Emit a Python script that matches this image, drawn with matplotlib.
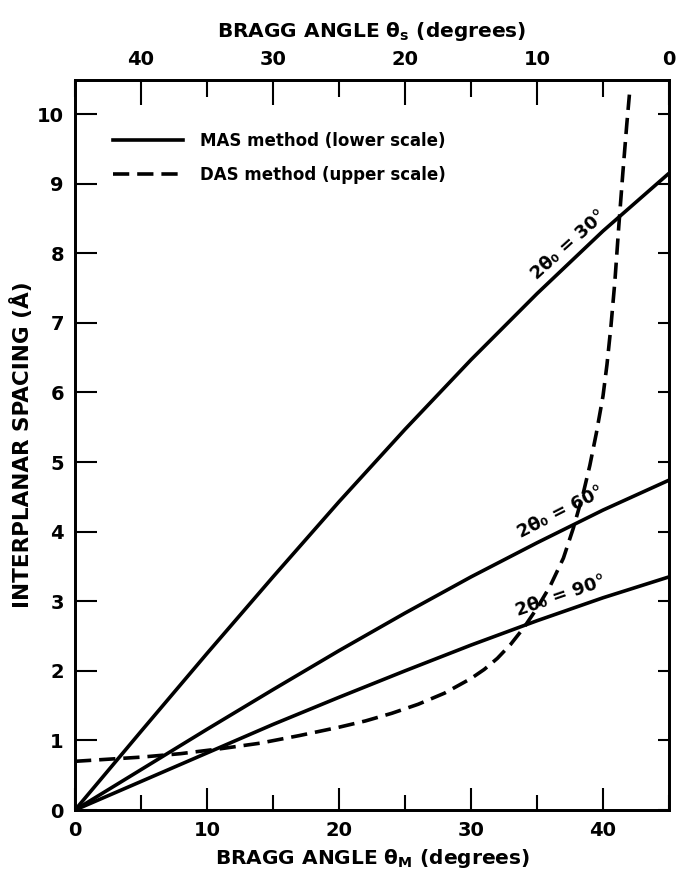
import matplotlib
matplotlib.use('Agg')
import matplotlib.pyplot as plt
from matplotlib.lines import Line2D
from matplotlib.ticker import MultipleLocator

#---- Data -------------------------------------------------------------------#

theta_m = [0, 5, 10, 15, 20, 25, 30, 35, 40, 45]            #lower scale (deg)
mas_30 = [0, 1.13, 2.25, 3.35, 4.43, 5.47, 6.47, 7.42, 8.32, 9.15]
mas_60 = [0, 0.58, 1.16, 1.73, 2.29, 2.83, 3.35, 3.84, 4.31, 4.74]
mas_90 = [0, 0.41, 0.82, 1.23, 1.62, 2.00, 2.37, 2.72, 3.05, 3.35]

theta_s = [45, 40, 37, 34, 31, 28, 25, 23, 21, 19, 17, 15, 14, 13, 12, 11,
           10, 9, 8, 7.25, 6.5, 6, 5.5, 5, 4.7, 4.4, 4.1, 3.8, 3.5, 3.2,
           3.0]                                             #upper scale (deg)
das = [0.70, 0.76, 0.81, 0.88, 0.96, 1.07, 1.19, 1.28, 1.39, 1.52, 1.68,
       1.89, 2.02, 2.18, 2.38, 2.62, 2.90, 3.22, 3.62, 4.05, 4.55, 4.95,
       5.42, 5.95, 6.40, 6.95, 7.60, 8.40, 9.15, 9.85, 10.28]

curve_labels = ['2θ₀ = 30°', '2θ₀ = 60°', '2θ₀ = 90°']

#---- Plotting ---------------------------------------------------------------#

plt.rcParams['font.family'] = 'DejaVu Sans'
plt.rcParams['font.weight'] = 'bold'
plt.rcParams['mathtext.default'] = 'bf'

fig = plt.figure(figsize=(6.77, 8.82), dpi=100)
ax = fig.add_axes([0.1108, 0.0816, 0.8774, 0.8277])

lw = 2.6
for yv in (mas_30, mas_60, mas_90):
    ax.plot(theta_m, yv, color='black', lw=lw, solid_capstyle='butt')

ax.set_xlim(0, 45)
ax.set_ylim(0, 10.49)

ax2 = ax.twiny()                        #upper scale, runs backwards
ax2.set_xlim(45, 0)
ax2.plot(theta_s, das, color='black', lw=lw, dashes=(4.5, 2.2))

ax3 = ax.twinx()                        #short ticks on the right spine
ax3.set_ylim(ax.get_ylim())
ax3.yaxis.set_major_locator(MultipleLocator(1))
ax3.tick_params(axis='y', direction='in', length=8, width=1.5,
                labelright=False)

#Curve annotations
ax.text(37.4, 8.12, curve_labels[0], rotation=42, fontsize=13,
        ha='center', va='center', fontweight='bold')
ax.text(36.8, 4.28, curve_labels[1], rotation=27, fontsize=13,
        ha='center', va='center', fontweight='bold')
ax.text(36.8, 3.08, curve_labels[2], rotation=19, fontsize=13,
        ha='center', va='center', fontweight='bold')

#Ticks
ax.xaxis.set_major_locator(MultipleLocator(10))
ax.xaxis.set_minor_locator(MultipleLocator(5))
ax.yaxis.set_major_locator(MultipleLocator(1))
ax.tick_params(axis='x', which='major', direction='in', length=16, width=1.5,
               labelsize=14, pad=8, top=False)
ax.tick_params(axis='x', which='minor', direction='in', length=11, width=1.5,
               top=False)
ax.tick_params(axis='y', which='major', direction='in', length=16, width=1.5,
               labelsize=14, pad=8, right=False)

ax2.xaxis.set_major_locator(MultipleLocator(10))
ax2.xaxis.set_minor_locator(MultipleLocator(5))
ax2.tick_params(axis='x', which='major', direction='in', length=18, width=1.5,
                labelsize=14, pad=8)
ax2.tick_params(axis='x', which='minor', direction='in', length=12, width=1.5)

for a in (ax, ax2, ax3):
    for s in a.spines.values():
        s.set_linewidth(1.8)

ax.set_xlabel('BRAGG ANGLE θ$_M$ (degrees)', fontsize=14.5, fontweight='bold',
              labelpad=5)
ax2.set_xlabel('BRAGG ANGLE θ$_s$ (degrees)', fontsize=14.5,
               fontweight='bold', labelpad=9)
ax.set_ylabel('INTERPLANAR SPACING (Å)', fontsize=15.5, fontweight='bold',
              labelpad=3)

#Legend
handles = [Line2D([], [], color='black', lw=lw),
           Line2D([], [], color='black', lw=lw, dashes=(4.5, 2.2))]
ax.legend(handles, ['MAS method (lower scale)', 'DAS method (upper scale)'],
          loc='upper left', bbox_to_anchor=(0.05, 0.94), frameon=False,
          handlelength=4.2, handletextpad=1.0, labelspacing=0.95,
          borderpad=0, prop={'weight': 'bold', 'size': 12})

fig.savefig('out.png', dpi=100)
